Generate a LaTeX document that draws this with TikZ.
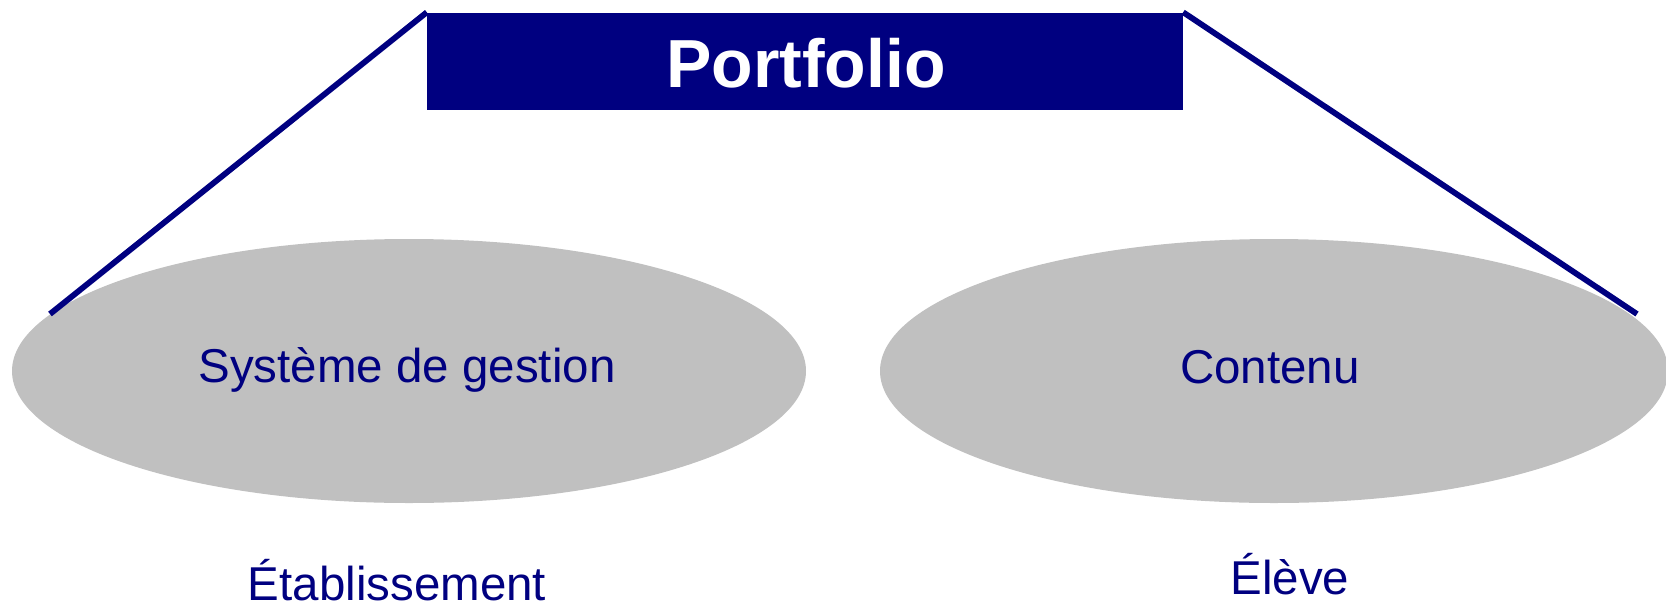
\documentclass[tikz,border=0pt]{standalone}
\usepackage{fontspec}
\setmainfont{Liberation Sans}
\usetikzlibrary{shapes.geometric}
\definecolor{navy}{HTML}{000080}
\definecolor{ovalgrey}{HTML}{C0C0C0}
\tikzset{
  oval/.style={ellipse, fill=ovalgrey, draw=none, inner sep=0pt},
  label48/.style={anchor=base, text=navy, inner sep=0pt, font=\fontsize{47.5}{50}\selectfont},
  titlebox/.style={fill=navy, draw=none, inner sep=0pt, minimum width=756pt, minimum height=97.5pt},
  connector/.style={draw=navy, line width=5.8pt}
}
\begin{document}
\begin{tikzpicture}[x=1pt,y=-1pt]
\useasboundingbox (0,0) rectangle (1666,611);
% ovals
\node[oval, minimum width=794pt, minimum height=264pt] (e1) at (409,371) {};
\node[oval, minimum width=788pt, minimum height=264pt] (e2) at (1274,371) {};
% title
\node[titlebox] (title) at (805,61.25) {};
\node[anchor=base, text=white, inner sep=0pt, font=\fontsize{68}{70}\selectfont\bfseries] (ttext) at (806,87) {Portfolio};
% connector ends
\coordinate (lend) at (50,314);
\coordinate (rend) at (1637,314);
\draw[connector] (title.north west) -- (lend);
\draw[connector] (title.north east) -- (rend);
% labels
\node[label48] (t1) at (407,382) {Système de gestion};
\node[label48] (t2) at (1270,383) {Contenu};
\node[label48] (t3) at (397,600) {Établissement};
\node[label48] (t4) at (1290,594) {Élève};
\end{tikzpicture}
\end{document}
